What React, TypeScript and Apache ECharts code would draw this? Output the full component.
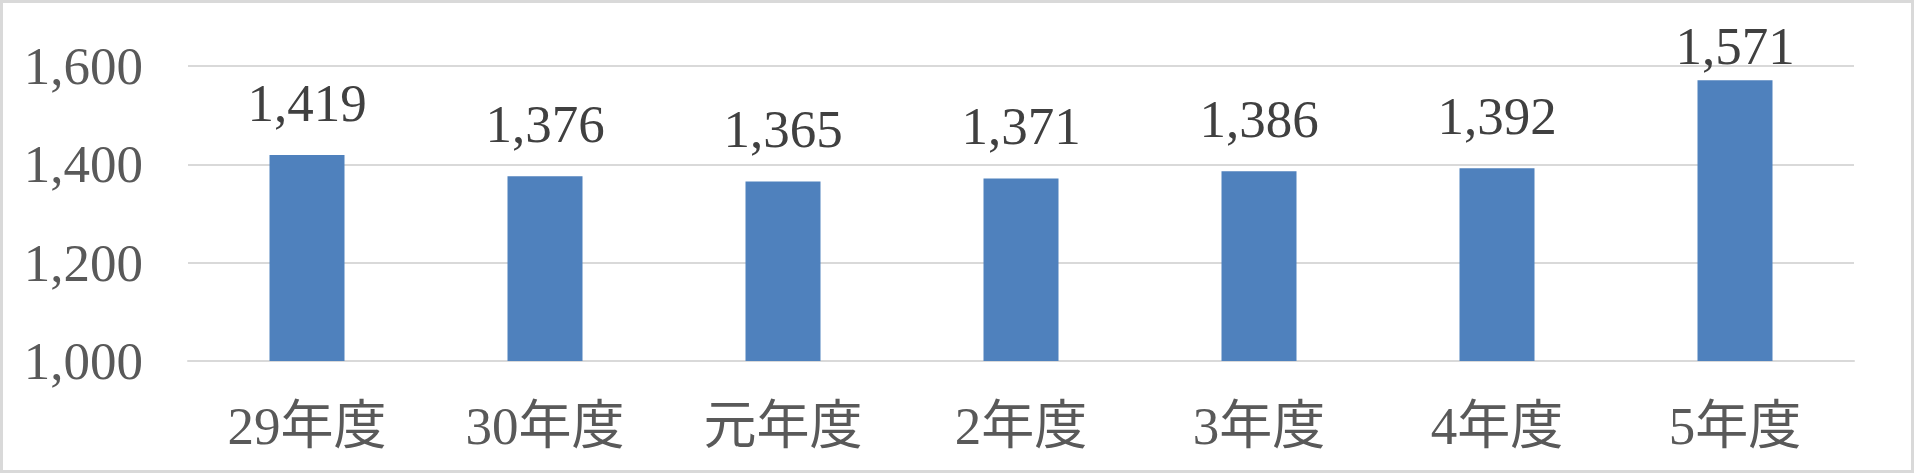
import React, { useEffect, useRef } from "react";
import * as echarts from "echarts";

const categories = ["29年度", "30年度", "元年度", "2年度", "3年度", "4年度", "5年度"];
const values = [1419, 1376, 1365, 1371, 1386, 1392, 1571];
const yMin = 1000;
const yMax = 1600;
const yInterval = 200;

const fmt = (v: number) => v.toLocaleString("en-US");
const FONT = "'Liberation Serif', 'Noto Sans CJK JP', serif";

export default function App() {
  const ref = useRef<HTMLDivElement>(null);
  useEffect(() => {
    document.body.style.margin = "0";
    if (!ref.current) return;
    const chart = echarts.init(ref.current, undefined, { renderer: "svg" });
    const last = values.length - 1;
    chart.setOption({
      animation: false,
      backgroundColor: "#ffffff",
      graphic: [
        {
          type: "rect",
          shape: { x: 1.5, y: 1.5, width: 1911, height: 470 },
          style: { fill: "none", stroke: "#D9D9D9", lineWidth: 3 },
          silent: true,
        },
      ],
      grid: { left: 188, right: 60, top: 66, bottom: 112 },
      xAxis: {
        type: "category",
        data: categories,
        axisLine: { show: true, lineStyle: { color: "#D9D9D9", width: 2 } },
        axisTick: { show: false },
        axisLabel: {
          color: "#595959",
          fontSize: 53,
          fontFamily: FONT,
          margin: 38,
        },
      },
      yAxis: {
        type: "value",
        min: yMin,
        max: yMax,
        interval: yInterval,
        axisLine: { show: false },
        axisTick: { show: false },
        splitLine: { lineStyle: { color: "#D9D9D9", width: 2 } },
        axisLabel: {
          color: "#595959",
          fontSize: 53,
          fontFamily: FONT,
          margin: 45,
          formatter: (v: number) => fmt(v),
        },
      },
      series: [
        {
          type: "bar",
          data: values.map((v, i) =>
            i === last ? { value: v, label: { distance: 8 } } : v
          ),
          barWidth: 75,
          itemStyle: { color: "#4F81BD" },
          label: {
            show: true,
            position: "top",
            distance: 26,
            color: "#404040",
            fontSize: 53,
            fontFamily: FONT,
            formatter: (p: any) => fmt(p.value),
          },
        },
      ],
    });
    return () => chart.dispose();
  }, []);
  return <div ref={ref} style={{ width: 1914, height: 473 }} />;
}
